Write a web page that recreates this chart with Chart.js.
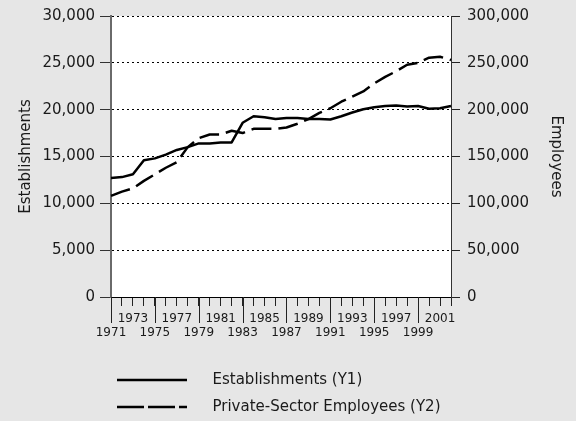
<!DOCTYPE html>
<html>
<head>
<meta charset="utf-8">
<script src="https://cdn.jsdelivr.net/npm/chart.js@4"></script>
<style>
  html, body { margin: 0; padding: 0; background: #e6e6e6; }
  #wrap { width: 576px; height: 421px; position: relative; }
</style>
</head>
<body>
<div id="wrap"><canvas id="c" width="576" height="421"></canvas></div>
<script>
const years = ['1971','1972','1973','1974','1975','1976','1977','1978','1979','1980','1981','1982','1983','1984','1985','1986','1987','1988','1989','1990','1991','1992','1993','1994','1995','1996','1997','1998','1999','2000','2001','2002'];
const establishments = [12700,12800,13100,14600,14800,15200,15700,16000,16400,16400,16500,16500,18600,19300,19200,19000,19100,19100,19000,19000,18950,19300,19700,20050,20250,20400,20450,20350,20400,20100,20150,20400];
const employees = [108000,112500,116000,124000,131000,138000,144000,160000,169500,173500,173500,177500,175000,179500,179500,179500,181000,185000,190000,196500,201500,208500,214000,219500,228000,235000,241000,248000,250000,255500,256500,253000];
const seriesNames = ['Establishments (Y1)', 'Private-Sector Employees (Y2)'];
const yTitleLeft = 'Establishments';
const yTitleRight = 'Employees';

const FONT = "'DejaVu Sans', sans-serif";
const TXT = '#1a1a1a';

function legendGlyph(dash) {
  const c = document.createElement('canvas');
  c.width = 94; c.height = 6;
  const g = c.getContext('2d');
  g.strokeStyle = '#000';
  g.lineWidth = 2.5;
  g.setLineDash(dash);
  g.beginPath();
  g.moveTo(0, 3); g.lineTo(70, 3);
  g.stroke();
  return c;
}
const glyphs = [legendGlyph([]), legendGlyph([27, 4])];

const plotBg = {
  id: 'plotBg',
  beforeDraw(chart) {
    const a = chart.chartArea, ctx = chart.ctx;
    ctx.save();
    ctx.fillStyle = '#ffffff';
    ctx.fillRect(a.left, a.top, a.right - a.left, a.bottom - a.top);
    ctx.restore();
  }
};
const longTicks = {
  id: 'longTicks',
  afterDraw(chart) {
    const s = chart.scales.x, ctx = chart.ctx;
    ctx.save();
    ctx.strokeStyle = '#222';
    ctx.lineWidth = 1;
    s.ticks.forEach((t, i) => {
      const yr = parseInt(years[t.value], 10);
      if ((yr - 1971) % 4 === 0) {
        const px = Math.round(s.getPixelForTick(i)) + 0.5;
        ctx.beginPath();
        ctx.moveTo(px, s.top);
        ctx.lineTo(px, s.top + 26);
        ctx.stroke();
      }
    });
    ctx.restore();
  }
};

const fmt = v => Number(v).toLocaleString('en-US');

new Chart(document.getElementById('c'), {
  type: 'line',
  data: {
    labels: years,
    datasets: [
      { label: seriesNames[0], data: establishments, yAxisID: 'y', borderColor: '#000', borderWidth: 2.5, pointRadius: 0, tension: 0, borderJoinStyle: 'round' },
      { label: seriesNames[1], data: employees, yAxisID: 'y2', borderColor: '#000', borderWidth: 2.5, borderDash: [20, 7], pointRadius: 0, tension: 0, borderJoinStyle: 'round' }
    ]
  },
  options: {
    responsive: false,
    animation: false,
    devicePixelRatio: 1,
    layout: { padding: { top: 15, left: 0, right: 0, bottom: 0 } },
    plugins: {
      tooltip: { enabled: false },
      legend: {
        position: 'bottom',
        align: 'start',
        fullSize: false,
        maxHeight: 60.5,
        labels: {
          usePointStyle: true,
          pointStyleWidth: 82,
          padding: 12,
          color: TXT,
          font: { family: FONT, size: 15 },
          generateLabels(chart) {
            return chart.data.datasets.map((d, i) => ({
              text: d.label, datasetIndex: i, pointStyle: glyphs[i],
              fillStyle: 'transparent', strokeStyle: '#000', lineWidth: 0, fontColor: TXT, hidden: false
            }));
          }
        }
      }
    },
    scales: {
      x: {
        type: 'category',
        offset: false,
        afterFit(s) { s.height = 63.5; },
        grid: { display: true, drawOnChartArea: false, drawTicks: true, tickLength: 9, tickColor: '#222', tickWidth: 1 },
        border: { display: true, color: '#000', width: 1 },
        ticks: {
          autoSkip: false, maxRotation: 0, minRotation: 0, padding: 6, color: TXT,
          font: { family: FONT, size: 12, lineHeight: 1.17 },
          callback(value) {
            const yr = parseInt(this.getLabelForValue(value), 10);
            if ((yr - 1971) % 4 === 0) return ['', String(yr)];
            if ((yr - 1973) % 4 === 0) return String(yr);
            return '';
          }
        }
      },
      y: {
        position: 'left',
        min: 0, max: 30000,
        afterFit(s) { s.width = 111; },
        ticks: { stepSize: 5000, padding: 5, color: TXT, font: { family: FONT, size: 15 }, callback: fmt },
        grid: { drawOnChartArea: true, drawTicks: true, tickLength: 11, tickColor: '#333', tickWidth: 1, lineWidth: 1,
                color: ctx => (ctx.tick && ctx.tick.value === 0) ? 'rgba(0,0,0,0)' : '#000' },
        border: { display: true, color: '#6a6a6a', width: 2, dash: [2, 3] },
        title: { display: true, text: yTitleLeft, color: TXT, font: { family: FONT, size: 15 }, padding: { top: 17, bottom: 0 } }
      },
      y2: {
        position: 'right',
        min: 0, max: 300000,
        afterFit(s) { s.width = 125; },
        ticks: { stepSize: 50000, padding: 7, color: TXT, font: { family: FONT, size: 15 }, callback: fmt },
        grid: { drawOnChartArea: false, drawTicks: true, tickLength: 9, tickColor: '#222', tickWidth: 1 },
        border: { display: true, color: '#333', width: 1 },
        title: { display: true, text: yTitleRight, color: TXT, font: { family: FONT, size: 15 }, padding: { top: 11, bottom: 0 } }
      }
    }
  },
  plugins: [plotBg, longTicks]
});
</script>
</body>
</html>
